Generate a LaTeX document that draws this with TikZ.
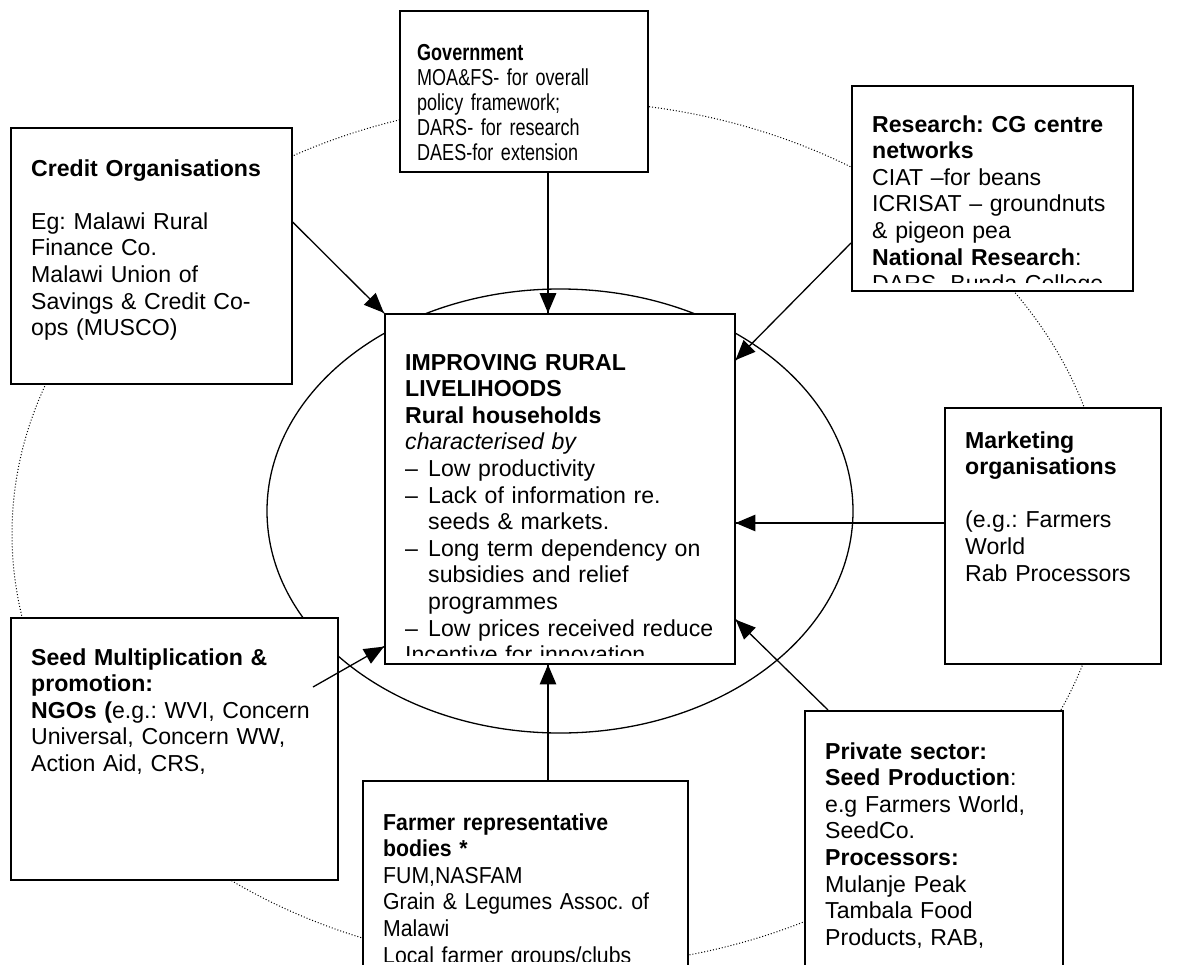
\documentclass[tikz,border=0pt]{standalone}
\usepackage{fontspec}
\setmainfont{Liberation Sans}
\newfontfamily\narrowface{Liberation Sans}[FakeStretch = 0.78]
\newfontfamily\slimface{Liberation Sans}[FakeStretch = 0.92]
\usepackage{tikz}
\usetikzlibrary{arrows}
\usetikzlibrary{decorations.markings}
\usetikzlibrary{positioning}
\frenchspacing
\newcommand{\boxfont}{\fontsize{23.1}{26.6}\selectfont}
\newcommand{\itemdash}{\makebox[23pt][l]{--}}
\tikzset{feed/.style = {line width = 1.3, decoration={markings,
                                  mark=at position 1 with {\arrow[scale=2]{triangle 45}}},
                      postaction={decorate}}}
\tikzset{box/.style = {draw, fill = white, line width = 1.6, inner sep = 0, anchor = north west}}
\tikzset{txt/.style = {anchor = base west, align = left, inner sep = 0, font = \boxfont}}

\begin{document}
\begin{tikzpicture}[x = 1pt, y = -1pt]
      \useasboundingbox (0, 0) rectangle (1178, 964);
      \clip (0, 0) rectangle (1178, 964);

      \draw [dotted, line width = 1] (560, 534) ellipse [x radius = 548, y radius = 433];
      \draw [line width = 1.3] (560, 511) ellipse [x radius = 293, y radius = 222];

      \node [box, minimum width = 281, minimum height = 256] (credit) at (10, 127) {};
      \node [txt, text width = 240] (credit-t) at ([shift = {(21, 49)}] credit.north west)
        {\textbf{Credit Organisations}\\ ~\\ Eg: Malawi Rural\\ Finance Co.\\ Malawi Union of\\
         Savings \& Credit Co-\\ ops (MUSCO)};

      \node [box, minimum width = 248, minimum height = 161] (govt) at (399, 10) {};
      \node [txt, text width = 225, font = \narrowface\fontsize{23.1}{25}\selectfont] (govt-t)
        at ([shift = {(18, 50)}] govt.north west)
        {\textbf{Government}\\ MOA\&FS- for overall\\ policy framework;\\ DARS- for research\\ DAES-for extension};

      \node [box, minimum width = 281, minimum height = 205] (res) at (851, 85) {};
      \begin{scope}
        \clip (res.north west) rectangle ([yshift = 9] res.south east);
        \node [txt, text width = 240] (res-t) at ([shift = {(21, 47)}] res.north west)
          {\textbf{Research: CG centre}\\ \textbf{networks}\\ CIAT --for beans\\ ICRISAT -- groundnuts\\
           \& pigeon pea\\ \textbf{National Research}:\\ DARS, Bunda College};
      \end{scope}

      \node [box, minimum width = 350, minimum height = 350] (core) at (384, 313) {};
      \begin{scope}
        \clip (core.north west) rectangle ([yshift = 9] core.south east);
        \node [txt, text width = 320] (core-t) at ([shift = {(21, 57)}] core.north west)
          {\textbf{IMPROVING RURAL}\\ \textbf{LIVELIHOODS}\\ \textbf{Rural households}\\
           \textit{characterised by}\\
           \itemdash Low productivity\\
           \itemdash Lack of information re.\\ \hspace*{23pt}seeds \& markets.\\
           \itemdash Long term dependency on\\ \hspace*{23pt}subsidies and relief\\ \hspace*{23pt}programmes\\
           \itemdash Low prices received reduce\\ Incentive for innovation};
      \end{scope}

      \node [box, minimum width = 216, minimum height = 256] (mkt) at (944, 407) {};
      \node [txt, text width = 190] (mkt-t) at ([shift = {(21, 41)}] mkt.north west)
        {\textbf{Marketing}\\ \textbf{organisations}\\ ~\\ (e.g.: Farmers\\ World\\ Rab Processors};

      \node [box, minimum width = 327, minimum height = 262] (seed) at (10, 617) {};
      \node [txt, text width = 290] (seed-t) at ([shift = {(21, 48)}] seed.north west)
        {\textbf{Seed Multiplication \&}\\ \textbf{promotion:}\\ \textbf{NGOs (}e.g.: WVI, Concern\\
         Universal, Concern WW,\\ Action Aid, CRS,};

      \node [box, minimum width = 325, minimum height = 189] (farm) at (362, 780) {};
      \begin{scope}
        \clip (farm.north west) rectangle ([yshift = 9] farm.south east);
        \node [txt, text width = 300, font = \slimface\boxfont] (farm-t) at ([shift = {(21, 50)}] farm.north west)
          {\textbf{Farmer representative}\\ \textbf{bodies *}\\ FUM,NASFAM\\ Grain \& Legumes Assoc. of\\
           Malawi\\ Local farmer groups/clubs};
      \end{scope}

      \node [box, minimum width = 258, minimum height = 300] (priv) at (804, 710) {};
      \node [txt, text width = 220] (priv-t) at ([shift = {(21, 49)}] priv.north west)
        {\textbf{Private sector:}\\ \textbf{Seed Production}:\\ e.g Farmers World,\\ SeedCo.\\
         \textbf{Processors:}\\ Mulanje Peak\\ Tambala Food\\ Products, RAB,};

      \coordinate (axis) at (548, 0);
      \coordinate (seed-tail) at (313, 687);
      \draw [feed] ([yshift = -95] credit.north east) -- (core.north west);
      \draw [feed] (govt.south -| axis) -- (core.north -| axis);
      \draw [feed] ([yshift = -158] res.north west) -- ([yshift = -47] core.north east);
      \draw [feed] ([yshift = -116] mkt.north west) coordinate (m) -- (m -| core.east);
      \draw [feed] ([xshift = 24] priv.north west) -- ([yshift = 45] core.south east);
      \draw [feed] (farm.north -| axis) -- (core.south -| axis);
      \draw [feed] (seed-tail) -- ([yshift = 18] core.south west);
    \end{tikzpicture}
\end{document}
